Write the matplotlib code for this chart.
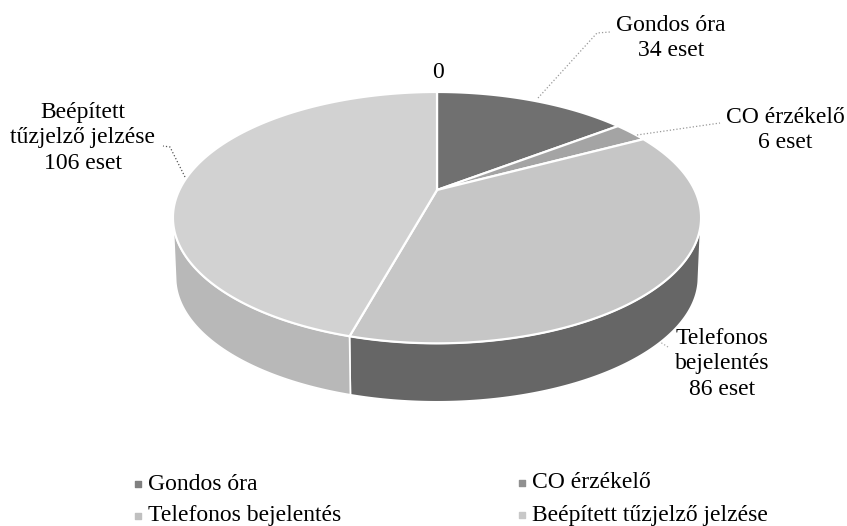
import numpy as np
from matplotlib import pyplot as plt
from matplotlib.patches import Polygon

categories = ['Gondos óra', 'CO érzékelő', 'Telefonos bejelentés', 'Beépített tűzjelző jelzése']
values = [34, 6, 86, 106]
top_colors = ['#707070', '#a4a4a4', '#c6c6c6', '#d2d2d2']
wall_colors = ['#707070', '#a4a4a4', '#666666', '#b8b8b8']
legend_colors = ['#808080', '#909090', '#c0c0c0', '#c8c8c8']

# pie placement in pixels, with a perspective squash
cx, cy = 437, 190
rx, ry, k = 257.6, 119.6, 0.22
wall_drop, wall_scale = 60, 0.99


def project(theta, scale=1.0, drop=0):
    u = np.sin(theta)
    v = np.cos(theta)
    w = 1 + k * v
    return cx + scale * rx * u / w, cy + drop - scale * ry * v / w


plt.rcParams['font.family'] = ['Liberation Serif', 'DejaVu Serif']

fig = plt.figure(figsize=(8.47, 5.26), dpi=100)
ax = fig.add_axes([0, 0, 1, 1])
ax.set_xlim(0, 847)
ax.set_ylim(526, 0)
ax.axis('off')

edges = np.cumsum([0] + values) / sum(values) * 2 * np.pi

# side walls, only the front part shows
for i in range(len(values)):
    t = np.linspace(edges[i], edges[i + 1], 300)
    t = t[(t > np.pi * 0.58) & (t < np.pi * 1.42)]
    if len(t) == 0:
        continue
    xt, yt = project(t)
    xb, yb = project(t, wall_scale, wall_drop)
    pts = np.column_stack([np.r_[xt, xb[::-1]], np.r_[yt, yb[::-1]]])
    ax.add_patch(Polygon(pts, closed=True, fc=wall_colors[i], ec='white', lw=1.2, zorder=1))

# top face
for i in range(len(values)):
    t = np.linspace(edges[i], edges[i + 1], 200)
    xt, yt = project(t)
    pts = np.column_stack([np.r_[cx, xt], np.r_[cy, yt]])
    ax.add_patch(Polygon(pts, closed=True, fc=top_colors[i], ec='white', lw=1.6, zorder=2))

labels = [
    ('Gondos óra\n34 eset', 671, 38),
    ('CO érzékelő\n6 eset', 785, 130),
    ('Telefonos\nbejelentés\n86 eset', 722, 364),
    ('Beépített\ntűzjelző jelzése\n106 eset', 83, 138),
]
for txt, x, y in labels:
    ax.text(x, y, txt, ha='center', va='center', fontsize=17, color='black',
            linespacing=1.3, zorder=5)
ax.text(438, 72, '0', ha='center', va='center', fontsize=17, color='black')

# leader lines
leaders = [
    ([538, 597, 610], [98, 33, 32], '#999999'),
    ([637, 720], [135, 123], '#999999'),
    ([185, 170, 163], [177, 147, 146], '#555555'),
    ([668, 660], [347, 342], '#aaaaaa'),
]
for lx, ly, c in leaders:
    ax.plot(lx, ly, ls=':', lw=0.9, color=c, zorder=4)

# legend
legend_pos = [(138, 484), (522, 483), (138, 516), (522, 515)]
for (lx, ly), name, c in zip(legend_pos, categories, legend_colors):
    ax.scatter([lx], [ly], s=14, marker='s', color=c, zorder=4)
    ax.text(lx + 10.5, ly, name, ha='left', va='center', fontsize=17, color='black')

fig.savefig('out.png', dpi=100)
